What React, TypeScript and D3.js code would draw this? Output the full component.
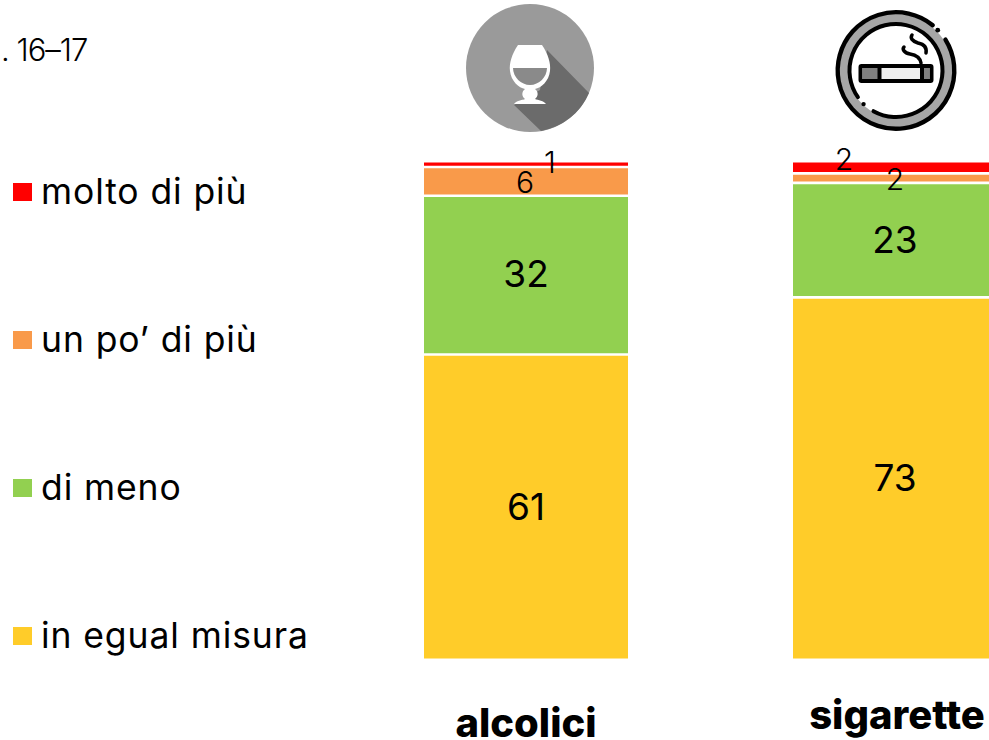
import React from "react";
import * as d3 from "d3";

const categories = ["alcolici", "sigarette"];
const seriesNames = ["in egual misura", "di meno", "un po’ di più", "molto di più"];
const seriesColors = ["#FFCC29", "#92D050", "#F99A4A", "#FF0000"];
const alcolici = [61.3, 32, 5.8, 0.9];
const sigarette = [72.8, 23.1, 1.9, 2.2];
const legendOrder = [3, 2, 1, 0];
const legendY = [192, 340, 488, 636];
const fragment = ". 16–17";
const FONT = "Inter, 'Liberation Sans', sans-serif";

const y = d3.scaleLinear().domain([0, 100]).range([658.5, 162.5]);
const x = d3.scaleOrdinal<string, number>().domain(categories).range([424, 793]);
const barW = 204;
const fmt = d3.format(".0f");
const labelOffsets: Record<string, { dx: number; dy: number }[]> = {
  alcolici: [{ dx: 0, dy: 0 }, { dx: 0, dy: -1 }, { dx: -1, dy: 1 }, { dx: 24, dy: -3 }],
  sigarette: [{ dx: 0, dy: 0 }, { dx: 0, dy: 0 }, { dx: 0, dy: 1 }, { dx: -51, dy: -9 }],
};

function Stack({ name, values }: { name: string; values: number[] }) {
  const stack = d3.stack<number[]>().keys(values.map((_, i) => String(i)))([values as any] as any) as any[];
  const x0 = x(name);
  return (
    <g>
      {stack.map((s, i) => {
        const [a, b] = s[0];
        return <rect key={i} x={x0} y={y(b)} width={barW} height={y(a) - y(b)} fill={seriesColors[i]} />;
      })}
      {stack.slice(1).map((s, i) => (
        <line key={i} x1={x0} x2={x0 + barW} y1={y(s[0][0])} y2={y(s[0][0])} stroke="#fff" strokeWidth={2.6} />
      ))}
      {stack.map((s, i) => {
        const [a, b] = s[0];
        const o = labelOffsets[name][i];
        const small = values[i] <= 6;
        return (
          <text key={i} x={x0 + barW / 2 + o.dx} y={y((a + b) / 2) + o.dy} dy="0.36em" textAnchor="middle" fontFamily={FONT} fontSize={small ? 30 : 37} fontWeight={small ? 300 : 400} fill="#000">
            {fmt(values[i])}
          </text>
        );
      })}
    </g>
  );
}

function Glass() {
  return (
    <g>
      <circle cx={530} cy={68} r={64} fill="#9a9a9a" />
      <path d="M547 50 L589 93 A64 64 0 0 1 541 131 L514 105 L540 90 Z" fill="#6b6b6b" />
      <path d="M518 45 H542 C548 54 551 63 550 71 C549 81 541 88 535 89 C539 92 538 97 535 99 C538 100 544 101 546 104 H514 C516 101 522 100 525 99 C522 97 521 92 525 89 C519 88 511 81 510 71 C509 63 512 54 518 45 Z" fill="#fff" />
      <path d="M513 68 H547 C547 77 539 85 530 85 C521 85 513 77 513 68 Z" fill="#8a8a8a" />
    </g>
  );
}

function ringArc(cx: number, cy: number, r: number, fromDeg: number, toDeg: number) {
  const p = d3.path();
  p.arc(cx, cy, r, (fromDeg * Math.PI) / 180, (toDeg * Math.PI) / 180);
  return p.toString();
}

function Cigarette() {
  const cx = 896, cy = 70.5;
  const pt = (r: number, deg: number) => [cx + r * Math.cos((deg * Math.PI) / 180), cy + r * Math.sin((deg * Math.PI) / 180)];
  const [ox, oy] = pt(58, -44);
  const [ix, iy] = pt(46.7, 134);
  return (
    <g>
      <circle cx={cx} cy={cy} r={52} fill="none" stroke="#a6a6a6" strokeWidth={9} />
      <path d={ringArc(cx, cy, 58.3, -32, 309)} fill="none" stroke="#000" strokeWidth={4.4} strokeLinecap="round" />
      <path d={ringArc(cx, cy, 46.5, 145, 479)} fill="none" stroke="#000" strokeWidth={4} strokeLinecap="round" />
      <circle cx={ox} cy={oy} r={2.4} fill="#000" />
      <circle cx={ix} cy={iy} r={2.2} fill="#000" />
      <rect x={860.5} y={66} width={71} height={15} rx={1} fill="#efefef" stroke="#000" strokeWidth={4} />
      <rect x={862.5} y={68} width={16} height={11} fill="#808080" />
      <rect x={923} y={68} width={6.5} height={11} fill="#808080" />
      <line x1={879.5} x2={879.5} y1={66} y2={81} stroke="#000" strokeWidth={4} />
      <line x1={922} x2={922} y1={66} y2={81} stroke="#000" strokeWidth={4} />
      <path d="M921 63 C920 57 916 55 910 54 C904 53 902 49 904 47" fill="none" stroke="#000" strokeWidth={3.5} strokeLinecap="round" />
      <path d="M926 53 C927 47 923 44 918 43 C912 41 910 38 912 35" fill="none" stroke="#000" strokeWidth={3.5} strokeLinecap="round" />
    </g>
  );
}

export default function App() {
  const valuesByCat = [alcolici, sigarette];
  return (
    <svg width={989} height={740} viewBox="0 0 989 740" style={{ position: "absolute", left: 0, top: 0, display: "block" }}>
      <rect width={989} height={740} fill="#fff" />
      <text x={1} y={61} fontFamily={FONT} fontSize={31} fontWeight={300} letterSpacing={-1} fill="#000">{fragment}</text>
      {legendOrder.map((si, i) => (
        <g key={si}>
          <rect x={13} y={legendY[i] - 9} width={19} height={18} fill={seriesColors[si]} />
          <text x={41} y={legendY[i] - 1} dy="0.36em" fontFamily={FONT} fontSize={35.5} letterSpacing={0.9} fill="#000">{seriesNames[si]}</text>
        </g>
      ))}
      {categories.map((c, i) => <Stack key={c} name={c} values={valuesByCat[i]} />)}
      <Glass />
      <Cigarette />
      <text x={526} y={737} textAnchor="middle" fontFamily={FONT} fontSize={40} fontWeight={800} fill="#000">{categories[0]}</text>
      <text x={897} y={729} textAnchor="middle" fontFamily={FONT} fontSize={40} fontWeight={800} fill="#000">{categories[1]}</text>
    </svg>
  );
}
